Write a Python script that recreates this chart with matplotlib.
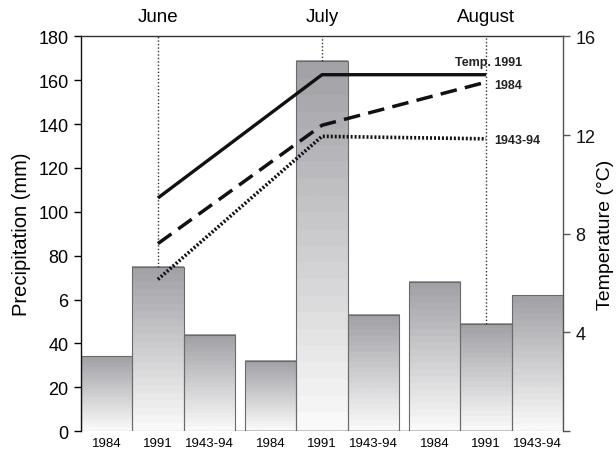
import matplotlib

matplotlib.use("Agg")
import matplotlib.pyplot as plt
import numpy as np
from matplotlib.colors import LinearSegmentedColormap
from matplotlib.patches import Rectangle

plt.rcParams.update(
    {
        "font.family": ["Liberation Sans", "DejaVu Sans"],
        "font.size": 13,
        "axes.linewidth": 1.0,
    }
)

# precipitation (mm) per month, one bar per period
months = ["June", "July", "August"]
periods = ["1984", "1991", "1943-94"]
precip_june = [34, 75, 44]
precip_july = [32, 169, 53]
precip_august = [68, 49, 62]

# mean temperature (°C) per month
temp_1991 = [9.45, 14.45, 14.45]
temp_1984 = [7.6, 12.4, 14.15]
temp_1943_94 = [6.15, 11.95, 11.85]

BAR_W = 1.0
GROUP_GAP = 0.2
grad = LinearSegmentedColormap.from_list("bar", ["#f9f9f9", "#a2a2a7"], N=22)

fig = plt.figure(figsize=(6.16, 4.56), dpi=100)
ax = fig.add_axes([0.1315, 0.0526, 0.7825, 0.8652])
ax2 = ax.twinx()

groups = [precip_june, precip_july, precip_august]
centers = []
xticks, xlabels = [], []
for g, vals in enumerate(groups):
    x0 = g * (3 * BAR_W + GROUP_GAP)
    for i, (lab, v) in enumerate(zip(periods, vals)):
        left = x0 + i * BAR_W
        ramp = np.linspace(0, 1, 200).reshape(-1, 1)
        ax.imshow(ramp, cmap=grad, origin="lower", aspect="auto",
                  extent=(left, left + BAR_W, 0, v), zorder=1)
        ax.add_patch(Rectangle((left, 0), BAR_W, v, fill=False,
                               edgecolor="#6a6a6a", lw=0.8, zorder=2))
        xticks.append(left + BAR_W / 2)
        xlabels.append(lab)
    centers.append(x0 + 1.5 * BAR_W)

xmax = 3 * (3 * BAR_W) + 2 * GROUP_GAP
ax.set_xlim(0, xmax)
ax.set_ylim(0, 180)
ax2.set_ylim(0, 16)

# month markers: dotted verticals down to the 1991 bar
for c, vals, name in zip(centers, groups, months):
    ax.vlines(c, vals[1], 180, colors="#333333", linestyles=(0, (1, 1.5)), lw=1.0, zorder=3)
    ax.text(c, 1.05, name, transform=ax.get_xaxis_transform(),
            ha="center", va="center", fontsize=13.5)

# baseline segment across the later bars
ax.hlines(0, 3 * BAR_W, 8 * BAR_W + 2 * GROUP_GAP, colors="#111111", lw=1.0, zorder=3)

ax2.plot(centers, temp_1991, color="#111111", lw=2.4, solid_capstyle="butt", zorder=4)
ax2.plot(centers, temp_1984, color="#111111", lw=2.5, ls=(0, (4.8, 2.4)), zorder=4)
ax2.plot(centers, temp_1943_94, color="#111111", lw=2.6, ls=(0, (0.55, 0.55)), zorder=4)

ax2.text(centers[2] + 0.05, temp_1991[2] + 0.5, "Temp. 1991", ha="center", va="center",
         fontsize=9, fontweight="bold", color="#222222")
ax2.text(centers[2] + 0.15, temp_1984[2] - 0.1, "1984", ha="left", va="center",
         fontsize=9, fontweight="bold", color="#222222")
ax2.text(centers[2] + 0.15, temp_1943_94[2] - 0.05, "1943-94", ha="left", va="center",
         fontsize=9, fontweight="bold", color="#222222")

ax.set_yticks(np.arange(0, 181, 20))
ax.set_yticklabels(["0", "20", "40", "6", "80", "100", "120", "140", "160", "180"])
ax.set_xticks(xticks)
ax.set_xticklabels(xlabels, fontsize=9.5)
ax.tick_params(axis="x", length=0, pad=4)
ax.tick_params(axis="y", length=5, width=1, pad=4)
ax.set_ylabel("Precipitation (mm)", fontsize=14.5, labelpad=5)

ax2.set_yticks([0, 4, 8, 12, 16])
ax2.set_yticklabels(["", "4", "8", "12", "16"])
ax2.tick_params(axis="y", length=5, width=1, colors="#555555", labelcolor="#111111", pad=4)
ax2.set_ylabel("Temperature (°C)", fontsize=14, labelpad=1)

for s in ("bottom", "right"):
    ax.spines[s].set_visible(False)
ax.spines["left"].set_color("#111111")
ax.spines["top"].set_color("#333333")
for s in ("left", "top", "bottom"):
    ax2.spines[s].set_visible(False)
ax2.spines["right"].set_color("#555555")

fig.savefig("out.png", dpi=100)
